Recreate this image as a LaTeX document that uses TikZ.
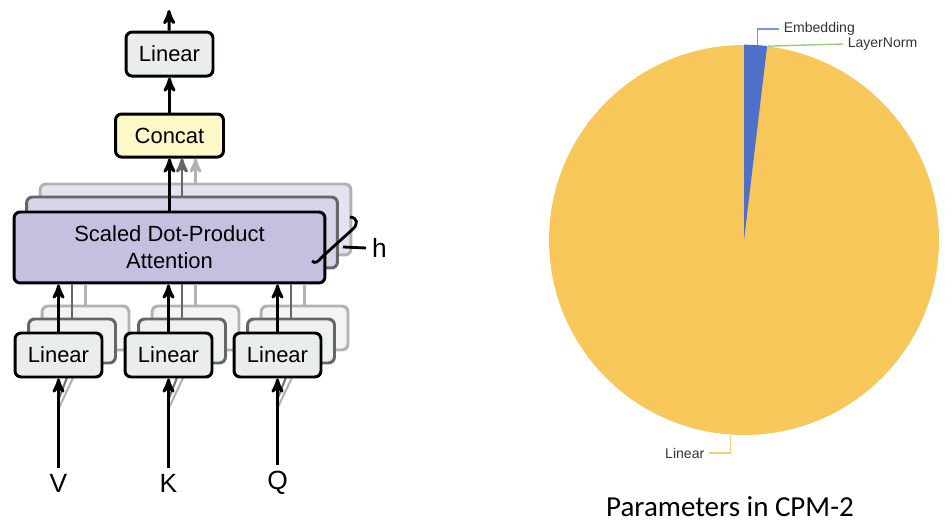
\documentclass[tikz,border=0pt]{standalone}
\usepackage{fontspec}
\setmainfont{Liberation Sans}
\newfontfamily\titlefont{Carlito}
\usetikzlibrary{positioning, arrows, calc}
\definecolor{linfill}{RGB}{233,238,236}
\definecolor{catfill}{RGB}{252,248,200}
\definecolor{attfill}{RGB}{198,192,224}
\definecolor{pieyellow}{RGB}{248,199,90}
\definecolor{pieblue}{RGB}{78,112,200}
\definecolor{embline}{RGB}{122,150,215}
\definecolor{normline}{RGB}{150,205,120}
\definecolor{linline}{RGB}{248,205,120}
\tikzset{
x=0.02cm, y=-0.02cm, % one unit is one pixel of the reference
>=stealth', % makes the arrow heads sharp
block/.style={draw, line width=1.7pt, rounded corners=3.5pt, inner sep=0pt}, % every box of the attention part
linbox/.style={block, fill=linfill, minimum width=1.74cm, minimum height=0.88cm, font=\fontsize{12.5}{14}\selectfont},
attbox/.style={block, fill=attfill, minimum width=6.22cm, minimum height=1.42cm, align=center, font=\fontsize{12.5}{15.5}\selectfont},
ghostdark/.style={draw=black!60, fill=#1}, % first copy behind a box
ghostlight/.style={draw=black!30, fill=#1}, % second copy behind a box
flow/.style={->, line width=1.7pt}, % the arrows
letter/.style={font=\fontsize{15}{18}\selectfont},
slicelabel/.style={font=\fontsize{8}{9}\selectfont, text=black!80, inner sep=2.5pt},
leader/.style={line width=0.8pt},
}

\begin{document}
\begin{tikzpicture}
  \useasboundingbox (0,0) rectangle (952,526);

  % copies of the attention box
  \node[attbox, ghostlight=attfill!45] (attn3) at (195.5,219.5) {};
  \node[attbox, ghostdark=attfill!70] (attn2) at (182,232.5) {};
  \node[attbox] (attn) at (169.5,247.5) {Scaled Dot-Product\\Attention};

  \node[block, fill=catfill, minimum width=2.16cm, minimum height=0.86cm, font=\fontsize{12.5}{14}\selectfont, above=1.04cm of attn] (concat) {Concat};
  \node[linbox, above=0.7cm of concat] (lintop) {Linear};
  \coordinate (out) at (169,10);

  \draw[flow, black!30] (attn3.north) -- (attn3.north |- concat.south);
  \draw[flow, black!60] (attn2.north) -- (attn2.north |- concat.south);
  \draw[flow] (attn) -- (concat);
  \draw[flow] (concat) -- (lintop);
  \draw[flow] (lintop) -- (out);

  % h brace
  \draw[line width=1.6pt] (350,217) .. controls (358,218) and (358,224) .. (353,229) -- (322,257) .. controls (318,262) and (315,264) .. (312,261);
  \node[letter, anchor=west] (h) at (366,248) {h};
  \coordinate (hook) at (343,247);
  \draw[line width=1.6pt] (hook) -- (h.west);

  % the three input projections
  \node[linbox, ghostlight=linfill!60] (linv3) at (85.5,328) {};
  \node[linbox, ghostdark=linfill!80] (linv2) at (72,341) {};
  \node[linbox, ghostlight=linfill!60] (link3) at (195.5,328) {};
  \node[linbox, ghostdark=linfill!80] (link2) at (182,341) {};
  \node[linbox, ghostlight=linfill!60] (linq3) at (304.5,328) {};
  \node[linbox, ghostdark=linfill!80] (linq2) at (291,341) {};

  \draw[line width=1.7pt, black!30] (linv3.north) -- (linv3.north |- attn.south);
  \draw[line width=1.7pt, black!60] (linv2.north) -- (linv2.north |- attn.south);
  \draw[line width=1.7pt, black!30] (link3.north) -- (link3.north |- attn.south);
  \draw[line width=1.7pt, black!60] (link2.north) -- (link2.north |- attn.south);
  \draw[line width=1.7pt, black!30] (linq3.north) -- (linq3.north |- attn.south);
  \draw[line width=1.7pt, black!60] (linq2.north) -- (linq2.north |- attn.south);

  \node[letter] (v) at (58.5,483) {V};
  \node[letter] (k) at (168.5,483) {K};
  \node[letter] (q) at (277.5,483) {Q};

  \draw[line width=1.2pt, black!30] ($(v.north)!0.65!(58.5,377)$) -- (linv3.south);
  \draw[line width=1.2pt, black!55] ($(v.north)!0.75!(58.5,377)$) -- (linv2.south);
  \draw[line width=1.2pt, black!30] ($(k.north)!0.65!(168.5,377)$) -- (link3.south);
  \draw[line width=1.2pt, black!55] ($(k.north)!0.75!(168.5,377)$) -- (link2.south);
  \draw[line width=1.2pt, black!30] ($(q.north)!0.65!(277.5,377)$) -- (linq3.south);
  \draw[line width=1.2pt, black!55] ($(q.north)!0.75!(277.5,377)$) -- (linq2.south);

  \node[linbox] (linv) at (58.5,355) {Linear};
  \node[linbox] (link) at (168.5,355) {Linear};
  \node[linbox] (linq) at (277.5,355) {Linear};

  \draw (v) edge[flow] (linv)
  (k) edge[flow] (link)
  (q) edge[flow] (linq)
  (linv) edge[flow] (linv |- attn.south)
  (link) edge[flow] (link |- attn.south)
  (linq) edge[flow] (linq |- attn.south);

  % pie of the parameters
  \node[circle, fill=pieyellow, minimum size=7.8cm, inner sep=0pt] (pie) at (744,240) {};
  \fill[pieblue] (pie.center) -- (pie.north) arc[start angle=90, end angle=83.2, radius=3.9cm] -- cycle;

  \node[slicelabel, anchor=west] (emb) at (779,29) {Embedding};
  \node[slicelabel, anchor=west] (norm) at (843,44) {LayerNorm};
  \node[slicelabel, anchor=east] (linear) at (709,453) {Linear};
  \draw[leader, embline] (pie.86.5) |- (emb.west);
  \draw[leader, normline] (pie.83.2) -- (norm.west);
  \draw[leader, linline] (pie.266.5) |- (linear.east);

  \node[font=\titlefont\fontsize{16.5}{20}\selectfont] (title) at (730,507) {Parameters in CPM-2};
\end{tikzpicture}
\end{document}
